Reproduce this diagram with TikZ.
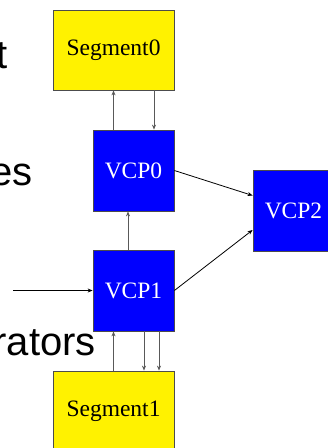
\documentclass[tikz,border=0pt]{standalone}
\usepackage{fontspec}
\setmainfont{Liberation Serif}
\newfontfamily\slidefont{Liberation Sans}
\usetikzlibrary{arrows.meta}

\begin{document}
\begin{tikzpicture}[x=1pt, y=-1pt,
  box/.style={draw=black!70, line width=0.8pt, inner sep=0pt,
    font=\fontsize{23.5}{23.5}\selectfont},
  segbox/.style={box, fill=yellow, text=black, minimum width=121pt, minimum height=80pt},
  vcpbox/.style={box, fill=blue, text=white, minimum width=81pt, minimum height=81pt},
  link/.style={draw=black!65, line width=0.8pt, -{Stealth[length=5pt,width=4pt]}},
  cross/.style={link, draw=black},
  slide/.style={anchor=base east, inner sep=0pt, font=\slidefont\fontsize{40}{40}\selectfont}]
\clip (0,0) rectangle (328,448);
\fill[white] (0,0) rectangle (328,448);
\node[slide] (txta) at (8,68) {t};
\node[slide] (txtb) at (33,185) {es};
\node[slide] (txtc) at (96,355) {rators};
\node[segbox] (seg0) at (113.5,50) {Segment0};
\node[vcpbox] (vcp0) at (133.5,170.5) {VCP0};
\node[vcpbox] (vcp1) at (133.5,290.5) {VCP1};
\node[vcpbox] (vcp2) at (293.5,210.5) {VCP2};
\node[segbox] (seg1) at (113.5,411) {Segment1};
\coordinate (src) at (13,290.5);
\draw[link] (vcp0.north -| seg0.south) -- (seg0.south);
\draw[link] ([xshift=40.5pt]seg0.south) -- ([xshift=40.5pt]seg0.south |- vcp0.north);
\draw[link] ([xshift=-5.5pt]vcp1.north) -- ([xshift=-5.5pt]vcp0.south);
\draw[cross] (vcp0.east) -- ([yshift=15pt]vcp2.west);
\draw[cross] (vcp1.east) -- ([yshift=-19.5pt]vcp2.west);
\draw[cross] (src) -- (vcp1.west);
\draw[link] (seg1.north) -- (vcp1.south -| seg1.north);
\draw[link] ([xshift=10.5pt]vcp1.south) -- ([xshift=10.5pt]vcp1.south |- seg1.north);
\draw[link] ([xshift=25.5pt]vcp1.south) -- ([xshift=25.5pt]vcp1.south |- seg1.north);
\end{tikzpicture}
\end{document}
